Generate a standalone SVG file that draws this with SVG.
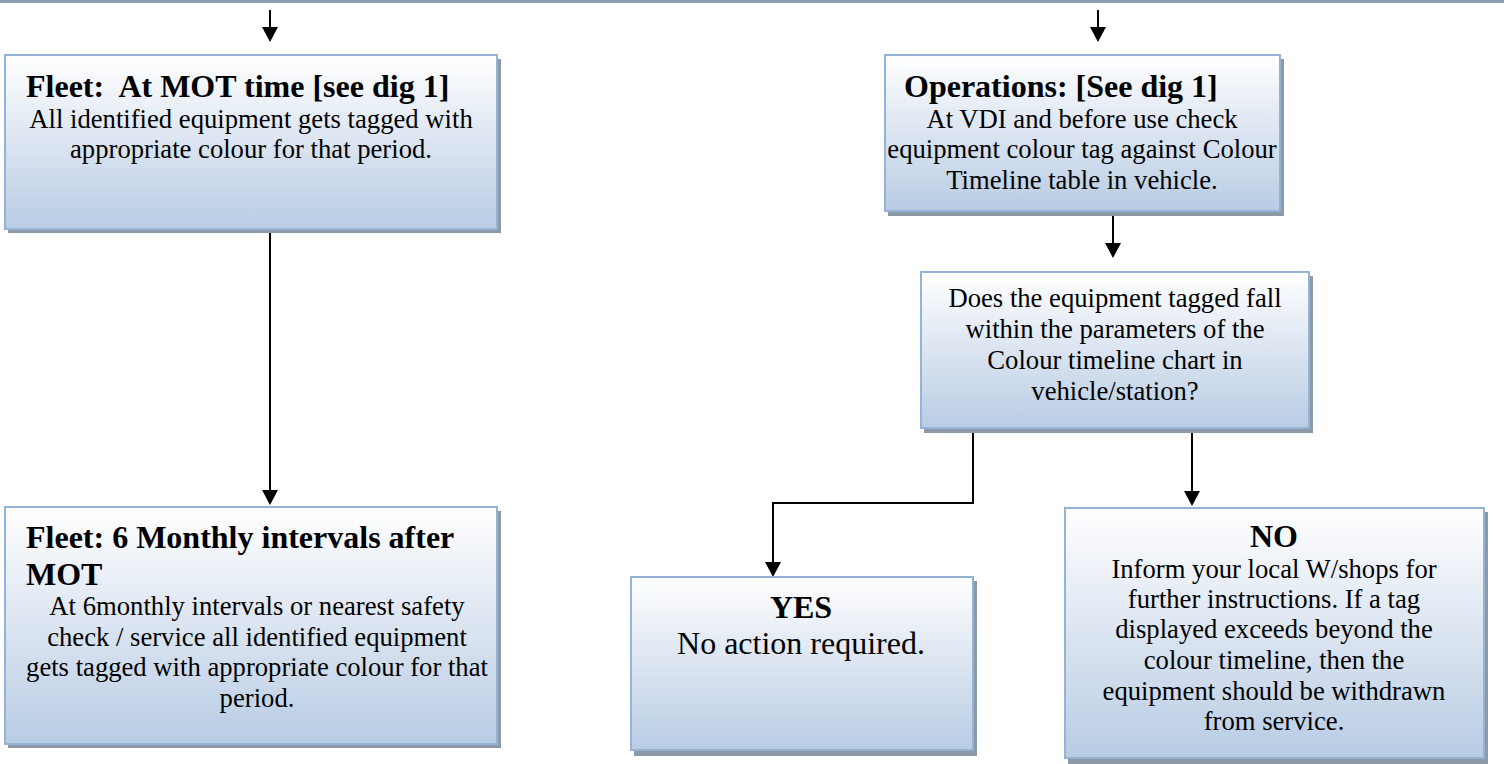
<svg xmlns="http://www.w3.org/2000/svg" width="1504" height="764" viewBox="0 0 1504 764">
<defs>
<linearGradient id="g" x1="0" y1="0" x2="0" y2="1">
<stop offset="0" stop-color="#ffffff"/>
<stop offset="0.45" stop-color="#dfe7f2"/>
<stop offset="1" stop-color="#b8cce4"/>
</linearGradient>
<marker id="ah" markerWidth="16" markerHeight="15" refX="8" refY="15" orient="auto-start-reverse" markerUnits="userSpaceOnUse" viewBox="0 0 16 15">
<path d="M0,0 L16,0 L8,15 Z" fill="#000"/>
</marker>
<style>
.sh{fill:#8e99a8}
.bx{fill:url(#g);stroke:#95b3d7;stroke-width:2}
.t{font-family:"Liberation Serif","Times New Roman",serif;fill:#000}
.tb{font-size:32px;font-weight:bold}
.b{font-size:26.67px;text-anchor:middle}
.bl{font-size:32px;text-anchor:middle}
.c{stroke:#000;stroke-width:2;fill:none}
</style>
</defs>
<rect x="0" y="0" width="1504" height="3" fill="#8f9db2"/>

<g id="connectors">
<path class="c" d="M270,10 V27" />
<path d="M262,27 L278,27 L270,42 Z" fill="#000"/>
<path class="c" d="M1098,10 V27" />
<path d="M1090,27 L1106,27 L1098,42 Z" fill="#000"/>
<path class="c" d="M270,229 V490" />
<path d="M262,490 L278,490 L270,505 Z" fill="#000"/>
<path class="c" d="M1113,212 V243" />
<path d="M1105,243 L1121,243 L1113,258 Z" fill="#000"/>
<path class="c" d="M973,428 V503 H773 V562" />
<path d="M765,562 L781,562 L773,577 Z" fill="#000"/>
<path class="c" d="M1192,428 V491" />
<path d="M1184,491 L1200,491 L1192,506 Z" fill="#000"/>
</g>

<g id="fleet-mot">
<rect class="sh" x="8" y="59" width="493" height="174"/>
<rect class="bx" x="5" y="55" width="492" height="174"/>
<text class="t tb" x="26" y="97" xml:space="preserve">Fleet:  At MOT time [see dig 1]</text>
<text class="t b" x="251" y="128">All identified equipment gets tagged with</text>
<text class="t b" x="251" y="158">appropriate colour for that period.</text>
</g>

<g id="fleet-6monthly">
<rect class="sh" x="8" y="511" width="493" height="237"/>
<rect class="bx" x="5" y="507" width="492" height="237"/>
<text class="t tb" x="26" y="548">Fleet: 6 Monthly intervals after</text>
<text class="t tb" x="26" y="585">MOT</text>
<text class="t b" x="257" y="615">At 6monthly intervals or nearest safety</text>
<text class="t b" x="257" y="646">check / service all identified equipment</text>
<text class="t b" x="257" y="676">gets tagged with appropriate colour for that</text>
<text class="t b" x="257" y="707">period.</text>
</g>

<g id="operations">
<rect class="sh" x="888" y="59" width="396" height="157"/>
<rect class="bx" x="885" y="55" width="395" height="156"/>
<text class="t tb" x="904" y="97">Operations: [See dig 1]</text>
<text class="t b" x="1082" y="128">At VDI and before use check</text>
<text class="t b" x="1082" y="158">equipment colour tag against Colour</text>
<text class="t b" x="1082" y="189">Timeline table in vehicle.</text>
</g>

<g id="decision">
<rect class="sh" x="924" y="276" width="389" height="157"/>
<rect class="bx" x="921" y="272" width="388" height="156"/>
<text class="t b" x="1115" y="307">Does the equipment tagged fall</text>
<text class="t b" x="1115" y="338">within the parameters of the</text>
<text class="t b" x="1115" y="369">Colour timeline chart in</text>
<text class="t b" x="1115" y="400">vehicle/station?</text>
</g>

<g id="yes">
<rect class="sh" x="634" y="581" width="343" height="175"/>
<rect class="bx" x="631" y="577" width="342" height="173"/>
<text class="t bl" x="801" y="618" font-weight="bold">YES</text>
<text class="t bl" x="801" y="654">No action required.</text>
</g>

<g id="no">
<rect class="sh" x="1068" y="512" width="420" height="254"/>
<rect class="bx" x="1065" y="508" width="419" height="250"/>
<text class="t bl" x="1274" y="547" font-weight="bold">NO</text>
<text class="t b" x="1274" y="578">Inform your local W/shops for</text>
<text class="t b" x="1274" y="608">further instructions. If a tag</text>
<text class="t b" x="1274" y="638">displayed exceeds beyond the</text>
<text class="t b" x="1274" y="669">colour timeline, then the</text>
<text class="t b" x="1274" y="700">equipment should be withdrawn</text>
<text class="t b" x="1274" y="730">from service.</text>
</g>
</svg>
